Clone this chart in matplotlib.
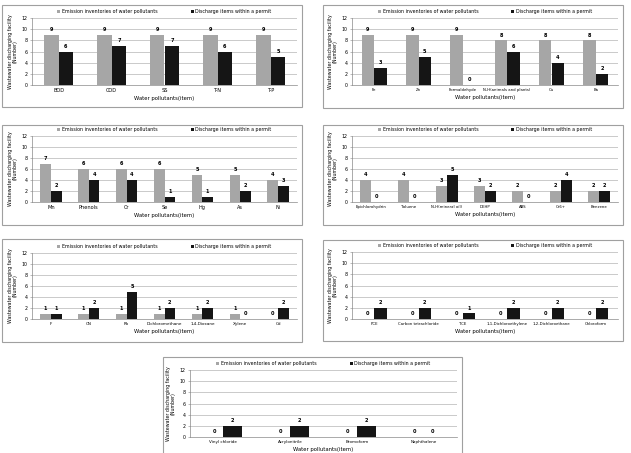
import matplotlib
matplotlib.use("Agg")
import matplotlib.pyplot as plt
from matplotlib.patches import Rectangle

# data
p1_items = ["BOD", "COD", "SS", "T-N", "T-P"]
p1_emis = [9, 9, 9, 9, 9]
p1_perm = [6, 7, 7, 6, 5]

p2_items = ["Fe", "Zn", "Formaldehyde", "N-H(animals and plants)", "Cu", "Ba"]
p2_emis = [9, 9, 9, 8, 8, 8]
p2_perm = [3, 5, 0, 6, 4, 2]

p3_items = ["Mn", "Phenols", "Cr", "Se", "Hg", "As", "Ni"]
p3_emis = [7, 6, 6, 6, 5, 5, 4]
p3_perm = [2, 4, 4, 1, 1, 2, 3]

p4_items = ["Epichlorohydrin", "Toluene", "N-H(mineral oil)", "DEHP", "ABS", "Cr6+", "Benzene"]
p4_emis = [4, 4, 3, 3, 2, 2, 2]
p4_perm = [0, 0, 5, 2, 0, 4, 2]

p5_items = ["F", "CN", "Pb", "Dichloromethane", "1,4-Dioxane", "Xylene", "Cd"]
p5_emis = [1, 1, 1, 1, 1, 1, 0]
p5_perm = [1, 2, 5, 2, 2, 0, 2]

p6_items = ["PCE", "Carbon tetrachloride", "TCE", "1,1-Dichloroethylene",
            "1,2-Dichloroethane", "Chloroform"]
p6_emis = [0, 0, 0, 0, 0, 0]
p6_perm = [2, 2, 1, 2, 2, 2]

p7_items = ["Vinyl chloride", "Acrylonitrile", "Bromoform", "Naphthalene"]
p7_emis = [0, 0, 0, 0]
p7_perm = [2, 2, 2, 0]

yticks = [0, 2, 4, 6, 8, 10, 12]

W, H = 631, 453
fig = plt.figure(figsize=(W / 100, H / 100), dpi=100)
fig.patch.set_facecolor("white")

GRAY = "#a6a6a6"
BLACK = "#151515"


def frac(x0, y0, x1, y1):
    # pixel box (top-left origin) -> figure fraction rect
    return [x0 / W, 1 - y1 / H, (x1 - x0) / W, (y1 - y0) / H]


def panel(box, axbox, items, emis, perm, xfs=3.2):
    fig.patches.append(Rectangle((box[0] / W, 1 - box[3] / H),
                                 (box[2] - box[0]) / W, (box[3] - box[1]) / H,
                                 transform=fig.transFigure, fill=False,
                                 edgecolor="#a0a0a0", linewidth=0.8))
    ax = fig.add_axes(frac(*axbox))
    n = len(items)
    x = list(range(n))
    w = 0.28
    b1 = ax.bar([i - w / 2 for i in x], emis, w, color=GRAY,
                label="Emission inventories of water pollutants", zorder=3)
    b2 = ax.bar([i + w / 2 for i in x], perm, w, color=BLACK,
                label="Discharge items within a permit", zorder=3)
    for bars, vals in ((b1, emis), (b2, perm)):
        for r, v in zip(bars, vals):
            ax.text(r.get_x() + r.get_width() / 2, v + 0.5, str(v),
                    ha="center", va="bottom", fontsize=3.6, fontweight="bold")
    ax.set_xlim(-0.5, n - 0.5)
    ax.set_ylim(0, 12)
    ax.set_yticks(yticks)
    ax.set_xticks(x)
    ax.set_xticklabels(items, fontsize=xfs)
    ax.tick_params(axis="y", labelsize=3.4, length=1.5, width=0.4, pad=1.5,
                   color="#888888")
    ax.tick_params(axis="x", length=0, pad=2.5)
    ax.grid(axis="y", color="#b5b5b5", linewidth=0.5, zorder=0)
    for s in ("top", "right"):
        ax.spines[s].set_visible(False)
    for s in ("left", "bottom"):
        ax.spines[s].set_color("#888888")
        ax.spines[s].set_linewidth(0.5)
    ax.set_xlabel("Water pollutants(item)", fontsize=3.8, labelpad=2)
    ax.set_ylabel("Wastewater discharging facility\n(Number)", fontsize=3.4,
                  labelpad=3, linespacing=1.0)
    ax.legend(loc="lower center", bbox_to_anchor=(0.5, 1.0), ncol=2,
              frameon=False, fontsize=3.4, handlelength=0.6, handleheight=0.6,
              handletextpad=0.4, columnspacing=7, borderaxespad=0.4)
    return ax


panel((2, 5, 302, 107), (32, 18, 297, 85), p1_items, p1_emis, p1_perm, 3.6)
panel((323, 5, 623, 108), (352, 18, 618, 85), p2_items, p2_emis, p2_perm, 2.8)
panel((2, 125, 302, 225), (32, 136, 297, 202), p3_items, p3_emis, p3_perm, 3.6)
panel((323, 125, 623, 225), (352, 136, 618, 202), p4_items, p4_emis, p4_perm, 2.8)
panel((2, 239, 302, 342), (32, 253, 297, 319), p5_items, p5_emis, p5_perm, 3.0)
panel((323, 240, 623, 341), (352, 252, 618, 319), p6_items, p6_emis, p6_perm, 2.8)
panel((163, 357, 462, 470), (190, 370, 457, 437), p7_items, p7_emis, p7_perm, 3.0)

fig.savefig("out.png", dpi=100)
